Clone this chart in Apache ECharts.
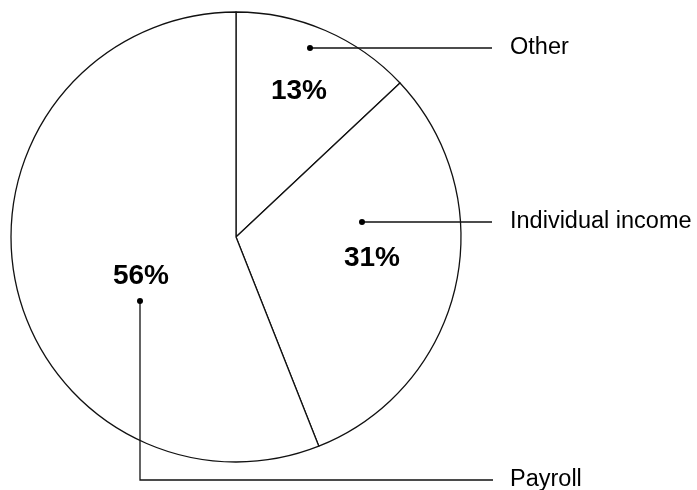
<!DOCTYPE html>
<html>
<head>
<meta charset="utf-8">
<script src="https://cdn.jsdelivr.net/npm/echarts@6/dist/echarts.min.js"></script>
<style>
  html, body { margin: 0; padding: 0; background: #fff; }
  #chart { width: 697px; height: 490px; }
</style>
</head>
<body>
<div id="chart"></div>
<script>
// data
var names = ['Other', 'Individual income', 'Payroll'];
var values = [13, 31, 56];

// label placement (annotation layout, pixels)
var pctPos = [[299, 91], [372, 258], [141, 276]];
var dotPos = [[310, 48], [362, 222], [140, 301]];
var bendPos = [[400, 48], [430, 222], [140, 480]];
var lineEnd = [[492, 48], [492, 222], [493, 480]];
var nameX = 510;

var chart = echarts.init(document.getElementById('chart'));

var pieData = names.map(function (n, i) { return { name: n, value: values[i] }; });

var option = {
    animation: false,
    backgroundColor: '#fff',
    series: [
        {
            type: 'pie',
            center: [236, 237],
            radius: 225,
            startAngle: 90,
            clockwise: true,
            silent: true,
            avoidLabelOverlap: false,
            itemStyle: { color: '#fff', borderColor: '#111', borderWidth: 1.3 },
            label: {
                show: true,
                position: 'inside',
                formatter: '{c}%',
                color: '#000',
                fontFamily: 'Liberation Sans, Arial, sans-serif',
                fontWeight: 'bold',
                fontSize: 28
            },
            labelLine: { show: false },
            labelLayout: function (p) {
                return { x: pctPos[p.dataIndex][0], y: pctPos[p.dataIndex][1], align: 'center', verticalAlign: 'middle', hideOverlap: false };
            },
            data: pieData
        },
        {
            type: 'pie',
            center: [236, 237],
            radius: 225,
            startAngle: 90,
            clockwise: true,
            silent: true,
            avoidLabelOverlap: false,
            z: 5,
            itemStyle: { color: 'rgba(0,0,0,0)', borderWidth: 0 },
            label: {
                show: true,
                position: 'outside',
                formatter: '{b}',
                color: '#000',
                fontFamily: 'Liberation Sans, Arial, sans-serif',
                fontSize: 23.5
            },
            labelLine: { show: true, lineStyle: { color: '#111', width: 1.3 } },
            labelLayout: function (p) {
                var i = p.dataIndex;
                return {
                    x: nameX,
                    y: lineEnd[i][1],
                    align: 'left',
                    verticalAlign: 'middle',
                    hideOverlap: false,
                    moveOverlap: null,
                    labelLinePoints: [dotPos[i], bendPos[i], lineEnd[i]]
                };
            },
            data: pieData
        }
    ],
    graphic: dotPos.map(function (d) {
        return { type: 'circle', shape: { cx: d[0], cy: d[1], r: 3 }, style: { fill: '#000' }, z: 10 };
    })
};

chart.setOption(option);
</script>
</body>
</html>
